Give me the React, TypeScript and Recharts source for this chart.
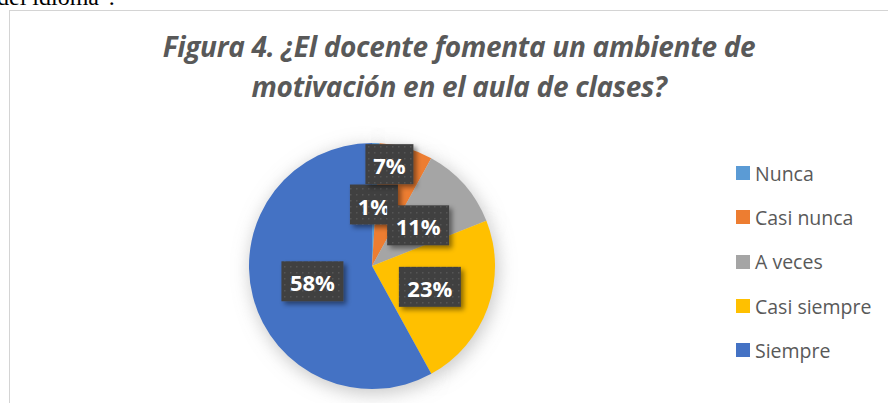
import { PieChart, Pie, Cell, Legend } from 'recharts';

const categories = ['Nunca', 'Casi nunca', 'A veces', 'Casi siempre', 'Siempre'];
const percentages = [1, 7, 11, 23, 58];
const colors = ['#5B9BD5', '#ED7D31', '#A5A5A5', '#FFC000', '#4472C4'];

const titleLines = ['Figura 4. ¿El docente fomenta un ambiente de', 'motivación en el aula de clases?'];

const data = categories.map((name, i) => ({ name, value: percentages[i] }));

const RADIAN = Math.PI / 180;

// Excel pushed the 7% label outwards so it does not sit on top of 1%
const labelTweaks: Record<number, { r: number; da: number }> = {
  1: { r: 0.84, da: 6.5 },
};

const renderLabel = (props: any) => {
  const { cx, cy, midAngle, outerRadius, value, index } = props;
  const tweak = labelTweaks[index] || { r: 0.5, da: 0 };
  const angle = (midAngle + tweak.da) * RADIAN;
  const x = cx + outerRadius * tweak.r * Math.cos(angle);
  const y = cy - outerRadius * tweak.r * Math.sin(angle);
  const text = `${value}%`;
  const w = text.length > 2 ? 62 : 48;
  const h = 40;
  return (
    <g key={`lbl-${index}`}>
      <rect
        x={x - w / 2}
        y={y - h / 2}
        width={w}
        height={h}
        fill="url(#boxDots)"
        filter="url(#boxShadow)"
      />
      <text
        x={x}
        y={y + 1}
        fill="#ffffff"
        textAnchor="middle"
        dominantBaseline="central"
        style={{ fontFamily: '"Open Sans", sans-serif', fontWeight: 700, fontSize: 22 }}
      >
        {text}
      </text>
    </g>
  );
};

const LegendContent = () => (
  <div>
    {categories.map((c, i) => (
      <div
        key={c}
        style={{ display: 'flex', alignItems: 'center', height: 44.3 }}
      >
        <span style={{ width: 14, height: 14, background: colors[i], marginRight: 5, display: 'inline-block' }} />
        <span style={{ fontSize: 19.5, color: '#595959', fontFamily: '"Open Sans", sans-serif' }}>{c}</span>
      </div>
    ))}
  </div>
);

export default function App() {
  return (
    <div style={{ position: 'absolute', left: 0, top: 0, width: 888, height: 403, overflow: 'hidden', background: '#fff' }}>
      <svg width={0} height={0} style={{ position: 'absolute' }}>
        <defs>
          <filter id="boxShadow" x="-30%" y="-30%" width="170%" height="170%">
            <feDropShadow dx="3" dy="3" stdDeviation="2.5" floodColor="#000" floodOpacity="0.45" />
          </filter>
          <filter id="pieGlow" x="-30%" y="-30%" width="160%" height="160%">
            <feGaussianBlur stdDeviation="9" />
          </filter>
          <pattern id="boxDots" width="6" height="6" patternUnits="userSpaceOnUse">
            <rect width="6" height="6" fill="#404040" />
            <rect x="2" y="2" width="1.5" height="1.5" fill="#555555" />
          </pattern>
        </defs>
      </svg>

      {/* texto del documento que queda cortado arriba */}
      <div
        style={{
          position: 'absolute',
          left: -3,
          top: -16,
          fontFamily: '"Liberation Serif", serif',
          fontSize: 24,
          color: '#000',
          whiteSpace: 'nowrap',
        }}
      >
        del idioma".
      </div>

      <div
        style={{
          position: 'absolute',
          left: 9,
          top: 10,
          width: 900,
          height: 420,
          border: '1.5px solid #D4D4D4',
          background: '#fff',
        }}
      />

      <div
        style={{
          position: 'absolute',
          left: 0,
          top: 26,
          width: 918,
          textAlign: 'center',
          fontFamily: '"Open Sans", sans-serif',
          fontStyle: 'italic',
          fontWeight: 700,
          fontSize: 28,
          letterSpacing: -0.3,
          lineHeight: '40px',
          color: '#595959',
        }}
      >
        {titleLines.map((t) => (
          <div key={t}>{t}</div>
        ))}
      </div>

      <div style={{ position: 'absolute', left: 0, top: 0 }}>
        <PieChart width={888} height={403}>
          <Pie
            data={data}
            dataKey="value"
            nameKey="name"
            cx={369}
            cy={265}
            outerRadius={124}
            startAngle={90}
            endAngle={-270}
            stroke="none"
            isAnimationActive={false}
            legendType="none"
          >
            {data.map((d) => (
              <Cell key={`sh-${d.name}`} fill="#9a9a9a" fillOpacity={0.55} filter="url(#pieGlow)" />
            ))}
          </Pie>
          <Pie
            data={data}
            dataKey="value"
            nameKey="name"
            cx={367}
            cy={261}
            outerRadius={123}
            startAngle={90}
            endAngle={-270}
            stroke="none"
            label={renderLabel}
            labelLine={false}
            isAnimationActive={false}
          >
            {data.map((d, i) => (
              <Cell key={d.name} fill={colors[i]} />
            ))}
          </Pie>
          <Legend
            content={<LegendContent />}
            wrapperStyle={{ position: 'absolute', left: 736, top: 151, width: 152 }}
          />
        </PieChart>
      </div>
    </div>
  );
}
